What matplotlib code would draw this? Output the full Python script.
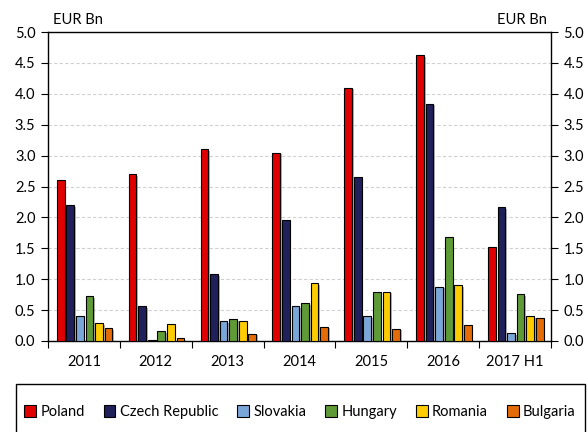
import matplotlib
matplotlib.use("Agg")
import matplotlib.pyplot as plt
import numpy as np
from matplotlib.patches import Rectangle, Patch
import matplotlib.patheffects as pe

categories = ["2011", "2012", "2013", "2014", "2015", "2016", "2017 H1"]
series_names = ["Poland", "Czech Republic", "Slovakia", "Hungary", "Romania", "Bulgaria"]
poland = [2.60, 2.70, 3.10, 3.05, 4.10, 4.62, 1.52]
czech = [2.20, 0.56, 1.08, 1.95, 2.66, 3.84, 2.17]
slovakia = [0.40, 0.02, 0.32, 0.56, 0.40, 0.88, 0.13]
hungary = [0.73, 0.16, 0.35, 0.61, 0.80, 1.68, 0.76]
romania = [0.29, 0.27, 0.33, 0.94, 0.80, 0.90, 0.40]
bulgaria = [0.21, 0.05, 0.12, 0.23, 0.20, 0.26, 0.38]
yticks = [0.0, 0.5, 1.0, 1.5, 2.0, 2.5, 3.0, 3.5, 4.0, 4.5, 5.0]

colors = ["#E00000", "#20205A", "#7BA7D8", "#5E9A35", "#FFCC00", "#E36C09"]
series = [poland, czech, slovakia, hungary, romania, bulgaria]

plt.rcParams['font.family'] = ['Lato', 'DejaVu Sans']

fig = plt.figure(figsize=(5.88, 4.32), dpi=100)
ax = fig.add_axes([48/588, 1-341/432, (551-48)/588, (341-32)/432])

x = np.arange(len(categories))
slot = 0.133
bw = 0.108
shadow = [pe.SimplePatchShadow(offset=(1.2, -1.2), shadow_rgbFace='#808080', alpha=0.6), pe.Normal()]
for i, (vals, c, name) in enumerate(zip(series, colors, series_names)):
    bars = ax.bar(x + (i - 2.5) * slot + 0.01, vals, width=bw, color=c, edgecolor='black',
                  linewidth=0.8, label=name, zorder=3)
    for b in bars:
        b.set_path_effects(shadow)

ax.set_xlim(-0.5, len(categories) - 0.5)
ax.set_ylim(0, 5.0)
ax.set_yticks(yticks)
ax.set_yticklabels([f"{v:.1f}" for v in yticks])
ax.yaxis.grid(True, linestyle=(0, (3, 2)), color='#D0D0D0', linewidth=0.8, zorder=0)
ax.set_axisbelow(True)

ax.set_xticks(np.arange(len(categories) + 1) - 0.5)
ax.set_xticklabels([])
ax.set_xticks(x, minor=True)
ax.set_xticklabels(categories, minor=True)
ax.tick_params(axis='x', which='major', length=5, width=0.8, direction='out')
ax.tick_params(axis='x', which='minor', length=0, pad=10, labelsize=10.5)
ax.tick_params(axis='y', length=5, width=0.8, direction='out', labelsize=10.5,
               left=True, right=True, labelleft=True, labelright=True, pad=4)

for s in ax.spines.values():
    s.set_color('black')
    s.set_linewidth(1.0)

fig.text(53/588, 1-20/432, "EUR Bn", fontsize=10.5, ha='left', va='center')
fig.text(547/588, 1-20/432, "EUR Bn", fontsize=10.5, ha='right', va='center')

rect = Rectangle((16/588, -0.1), (585-16)/588, 1-384/432+0.1, transform=fig.transFigure,
                 fill=False, edgecolor='black', linewidth=1.0)
fig.patches.append(rect)

handles = [Patch(facecolor=c, edgecolor='black', linewidth=0.8) for c in colors]
fig.legend(handles, series_names, loc='center', bbox_to_anchor=(300/588, 1-412/432),
           ncol=6, frameon=False, fontsize=10.5, handlelength=0.8, handleheight=0.8,
           handletextpad=0.3, columnspacing=1.3, borderaxespad=0)

fig.savefig("out.png", dpi=100)
